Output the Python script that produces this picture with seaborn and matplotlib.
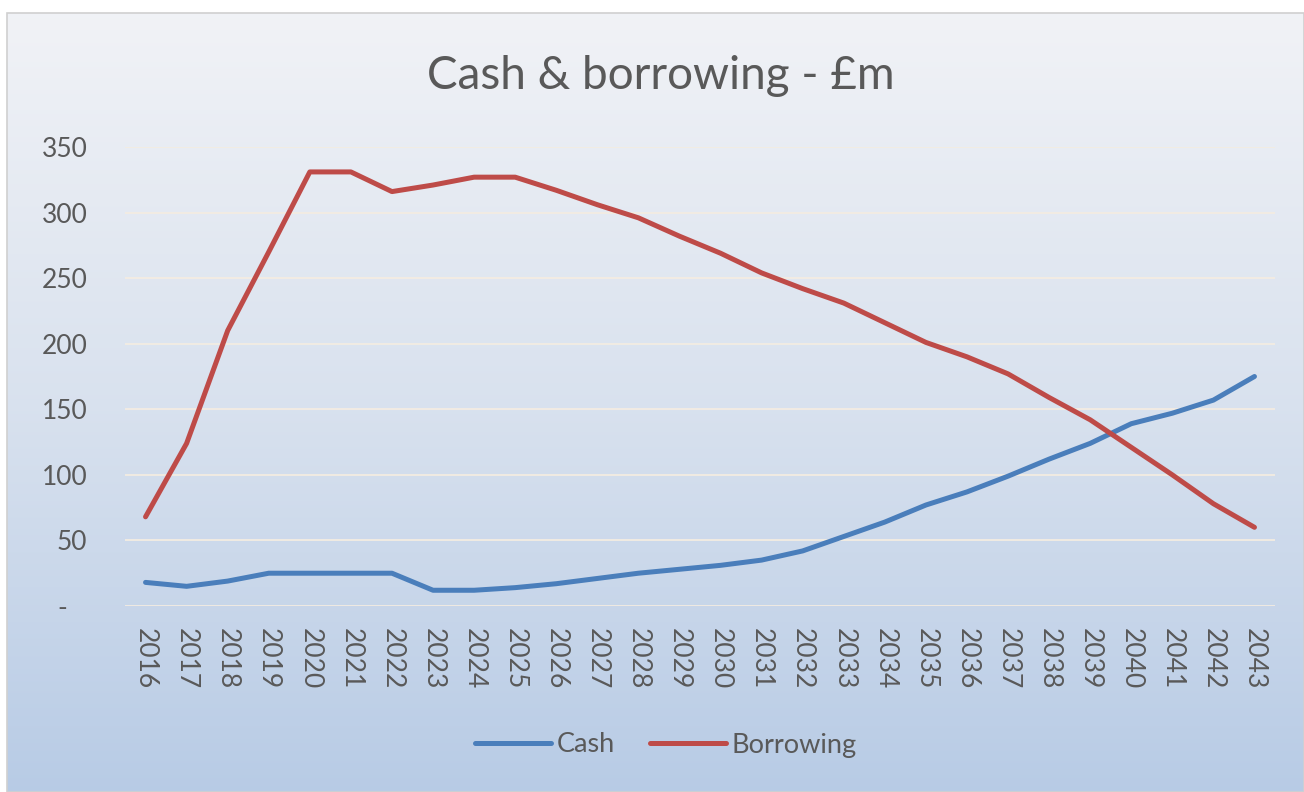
import numpy as np
import pandas as pd
import matplotlib
matplotlib.use("Agg")
import matplotlib.pyplot as plt
from matplotlib.patches import Rectangle
from matplotlib.lines import Line2D
import seaborn as sns

years = list(range(2016, 2044))
cash = [18, 15, 19, 25, 25, 25, 25, 12, 12, 14, 17, 21, 25, 28, 31, 35,
        42, 53, 64, 77, 87, 99, 112, 124, 139, 147, 157, 175]
borrowing = [68, 124, 210, 270, 331, 331, 316, 321, 327, 327, 317, 306, 296, 282, 269, 254,
             242, 231, 216, 201, 190, 177, 159, 142, 121, 100, 78, 60]
y_ticks = [0, 50, 100, 150, 200, 250, 300, 350]
y_tick_labels = ["-   ", "50", "100", "150", "200", "250", "300", "350"]
series_names = ["Cash", "Borrowing"]
series_colors = {"Cash": "#4A7EBB", "Borrowing": "#BE4B48"}
title = "Cash & borrowing - £m"

df = pd.DataFrame({
    "year": years * 2,
    "value": cash + borrowing,
    "series": ["Cash"] * len(years) + ["Borrowing"] * len(years),
})

sns.set_style("white")
plt.rcParams["font.family"] = ["Lato", "DejaVu Sans"]

W, H = 1304, 792
fig = plt.figure(figsize=(W / 100, H / 100), dpi=100)
fig.patch.set_facecolor("white")

# gradient background of chart box
bx0, by0 = 7 / W, 0
bw, bh = 1 - 7 / W, 1 - 13 / H
bg = fig.add_axes([bx0, by0, bw, bh])
top = np.array([0.945, 0.950, 0.965])
mid = np.array([0.850, 0.885, 0.935])
bot = np.array([0.720, 0.797, 0.900])
t = np.linspace(0, 1, 400)[:, None]
grad = np.where(t < 0.5, top + (mid - top) * (t / 0.5), mid + (bot - mid) * ((t - 0.5) / 0.5))
img = np.repeat(grad[:, None, :], 2, axis=1)
bg.imshow(img, aspect="auto", extent=[0, 1, 0, 1], origin="upper")
bg.set_xlim(0, 1)
bg.set_ylim(0, 1)
bg.axis("off")
fig.patches.append(Rectangle((bx0, by0), bw, bh, transform=fig.transFigure,
                             fill=False, edgecolor="#D0D0D0", linewidth=1.2))

ax = fig.add_axes([125 / W, 1 - 606 / H, (1275 - 125) / W, (606 - 147) / H])
ax.set_facecolor("none")

sns.lineplot(data=df, x="year", y="value", hue="series", hue_order=series_names,
             palette=series_colors, linewidth=3.6, ax=ax, legend=False,
             solid_capstyle="round", solid_joinstyle="round", zorder=3)

ax.set_xlim(years[0] - 0.5, years[-1] + 0.5)
ax.set_ylim(0, 350)
ax.set_yticks(y_ticks)
ax.set_yticklabels(y_tick_labels)
ax.set_xticks(years)
ax.set_xticklabels([str(y) for y in years], rotation=270, ha="center", va="top")
ax.tick_params(axis="both", length=0, colors="#595959", labelsize=19)
ax.tick_params(axis="y", pad=27)
ax.tick_params(axis="x", pad=16)
for s in ax.spines.values():
    s.set_visible(False)
ax.grid(axis="y", color="#F3ECE2", linewidth=1.3, zorder=1)
ax.grid(axis="x", visible=False)
ax.set_xlabel("")
ax.set_ylabel("")

fig.text(661 / W, 1 - 76 / H, title, ha="center", va="center",
         fontsize=33, color="#595959")

handles = [Line2D([], [], color=series_colors[n], linewidth=3.6, solid_capstyle="round")
           for n in series_names]
fig.legend(handles, series_names, loc="center", bbox_to_anchor=(666 / W, 1 - 745 / H),
           ncol=2, frameon=False, fontsize=19.5, handlelength=2.8, handletextpad=0.2,
           columnspacing=1.3, labelcolor="#595959")

fig.savefig("out.png", dpi=100)
